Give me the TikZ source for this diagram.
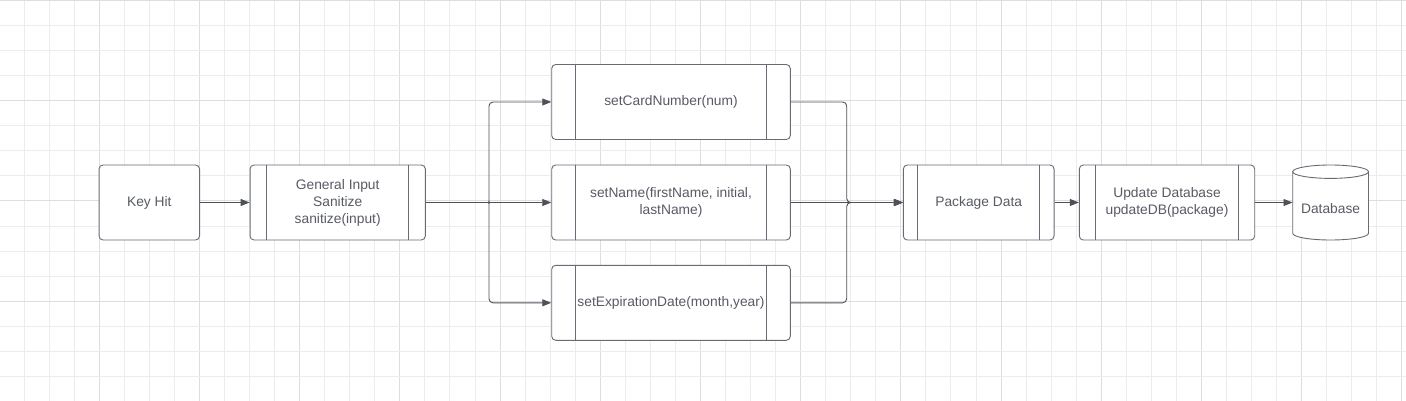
\documentclass[tikz,border=0pt]{standalone}
\usepackage{fontspec}
\setmainfont{Liberation Sans}
\usetikzlibrary{arrows.meta}
\definecolor{minorgrid}{RGB}{236,236,236}
\definecolor{majorgrid}{RGB}{222,222,222}
\definecolor{boxline}{RGB}{104,107,116}
\definecolor{txt}{RGB}{88,91,100}
\definecolor{conline}{RGB}{78,81,90}
\tikzset{
  box/.style={draw=boxline, line width=0.9pt, rounded corners=4pt, inner sep=0pt, align=center,
    text=txt, font=\fontsize{13.8pt}{17pt}\selectfont, fill=white},
  innerline/.style={draw=boxline, line width=0.9pt},
  conn/.style={draw=conline, line width=0.9pt},
  arr/.style={conn, -{Triangle[length=9pt,width=7pt]}},
}
\begin{document}
\begin{tikzpicture}[x=1pt,y=-1pt]
\useasboundingbox (0,0) rectangle (1406,401);
\fill[white] (0,0) rectangle (1406,401);
% grid
\foreach \k in {-3,...,52}{
  \pgfmathsetmacro\xx{99.2+25.05*\k}
  \pgfmathtruncatemacro\mm{mod(\k+400,4)}
  \ifnum\mm=0 \draw[majorgrid, line width=0.9pt] (\xx,0) -- (\xx,401);
  \else \draw[minorgrid, line width=0.9pt] (\xx,0) -- (\xx,401); \fi
}
\foreach \k in {0,...,16}{
  \pgfmathsetmacro\yy{0.5+25.05*\k}
  \pgfmathtruncatemacro\mm{mod(\k,4)}
  \ifnum\mm=0 \draw[majorgrid, line width=0.9pt] (0,\yy) -- (1406,\yy);
  \else \draw[minorgrid, line width=0.9pt] (0,\yy) -- (1406,\yy); \fi
}
% nodes
\node[box, minimum width=100.5pt, minimum height=75pt] (key) at (149.3,202.5) {Key Hit};
\node[box, minimum width=175.3pt, minimum height=75pt] (gi) at (337.7,202.5) {General Input\\Sanitize\\sanitize(input)};
\node[box, minimum width=238.6pt, minimum height=75pt] (scn) at (671,102) {setCardNumber(num)};
\node[box, minimum width=238.6pt, minimum height=75pt] (sn) at (671,202.5) {setName(firstName, initial,\\lastName)};
\node[box, minimum width=238.6pt, minimum height=75pt] (sed) at (671,302.8) {setExpirationDate(month,year)};
\node[box, minimum width=150.7pt, minimum height=75pt] (pd) at (978.7,202.5) {Package Data};
\node[box, minimum width=175.4pt, minimum height=75pt] (ud) at (1167,202.5) {Update Database\\updateDB(package)};
% inner side lines
\foreach \n/\d in {gi/17, scn/24, sn/24, sed/24, pd/15, ud/17}{
  \draw[innerline] ([xshift=\d pt]\n.north west) -- ([xshift=\d pt]\n.south west);
  \draw[innerline] ([xshift=-\d pt]\n.north east) -- ([xshift=-\d pt]\n.south east);
}
% database cylinder
\fill[white] (1292.7,171.7) -- (1292.7,233.3) arc[start angle=180, end angle=360, x radius=37.9pt, y radius=6.7pt] -- (1368.5,171.7) arc[start angle=0, end angle=180, x radius=37.9pt, y radius=6.7pt] -- cycle;
\draw[innerline] (1330.6,171.7) ellipse [x radius=37.9pt, y radius=6.7pt];
\draw[innerline] (1292.7,171.7) -- (1292.7,233.3) arc[start angle=180, end angle=360, x radius=37.9pt, y radius=6.7pt] -- (1368.5,171.7);
\node[inner sep=0pt, minimum width=75.8pt, text height=48pt, text depth=27pt, text=txt, font=\fontsize{13.8pt}{17pt}\selectfont] (db) at (1330.6,202.5) {Database};
% connectors
\coordinate (split) at (489,202.5);
\coordinate (merge) at (846.7,202.5);
\draw[arr] (key.east) -- (gi.west);
\draw[conn] (gi.east) -- (split);
\draw[arr, rounded corners=4pt] (split) |- (scn.west);
\draw[arr] (split) -- (sn.west);
\draw[arr, rounded corners=4pt] (split) |- (sed.west);
\fill[conline] (split) circle (1.3pt);
\draw[arr, rounded corners=4pt] (scn.east) -| (merge) -- (pd.west);
\draw[arr] (sn.east) -- (pd.west);
\draw[arr, rounded corners=4pt] (sed.east) -| (merge) -- (pd.west);
\draw[arr] (pd.east) -- (ud.west);
\draw[arr] (ud.east) -- (db.west);
\end{tikzpicture}
\end{document}
